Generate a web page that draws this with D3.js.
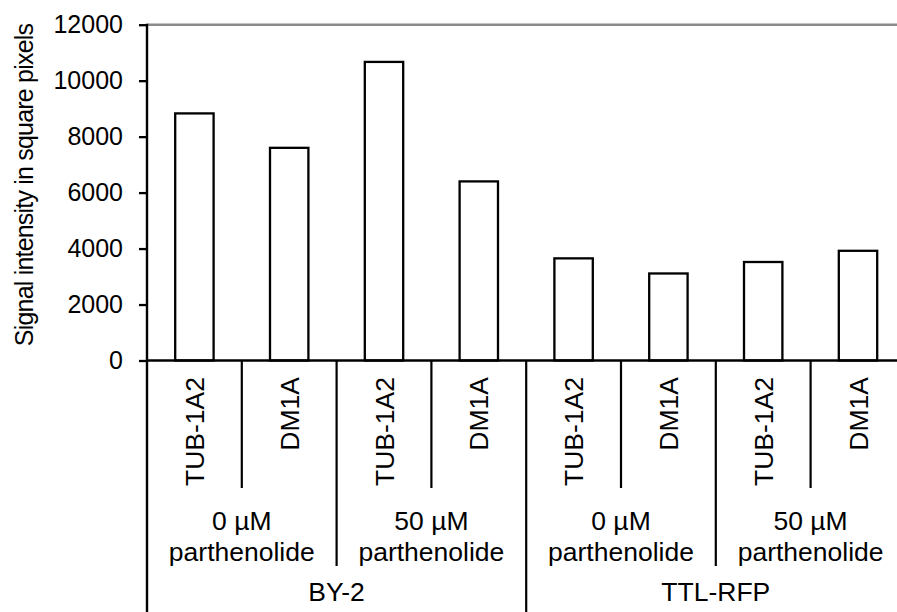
<!DOCTYPE html>
<html>
<head>
<meta charset="utf-8">
<script src="https://cdn.jsdelivr.net/npm/d3@7"></script>
<style>
  html, body { margin: 0; padding: 0; background: #fff; overflow: hidden; }
  svg { display: block; }
  text { font-family: "Liberation Sans", Arial, sans-serif; fill: #000; }
</style>
</head>
<body>
<svg id="chart" width="897" height="612"></svg>
<script>
// ---- data ----
const cellLines = ["BY-2", "TTL-RFP"];
const treatments = [["0 µM", "parthenolide"], ["50 µM", "parthenolide"]];
const antibodies = ["TUB-1A2", "DM1A"];
const values = [8830, 7600, 10670, 6400, 3650, 3110, 3520, 3920];
const yTicks = [0, 2000, 4000, 6000, 8000, 10000, 12000];
const yTitle = "Signal intensity in square pixels";

// build category table
const cats = [];
cellLines.forEach((c, ci) => treatments.forEach((t, ti) => antibodies.forEach((a, ai) => {
  cats.push({ id: ci + "-" + ti + "-" + ai, cell: c, treat: t, ab: a });
})));
cats.forEach((d, i) => d.value = values[i]);

const svg = d3.select("#chart");
const x0 = 147, x1 = 905.4, yTop = 24.7, yBase = 360.5;

const x = d3.scaleBand().domain(cats.map(d => d.id)).range([x0, x1]).padding(0);
const y = d3.scaleLinear().domain([0, 12000]).range([yBase, yTop]);
const bw = x.bandwidth();

// gridline at top (grey)
svg.append("line")
  .attr("x1", x0).attr("x2", x1)
  .attr("y1", y(12000)).attr("y2", y(12000))
  .attr("stroke", "#8a8a8a").attr("stroke-width", 2.4);

// bars
const barW = bw * 0.405;
svg.append("g").selectAll("rect").data(cats).join("rect")
  .attr("x", d => x(d.id) + (bw - barW) / 2)
  .attr("y", d => y(d.value))
  .attr("width", barW)
  .attr("height", d => y(0) - y(d.value))
  .attr("fill", "#fff").attr("stroke", "#000").attr("stroke-width", 2.3);

// y axis
const yAxis = d3.axisLeft(y).tickValues(yTicks).tickSize(8).tickPadding(16).tickFormat(d3.format("d"));
const gy = svg.append("g").attr("transform", `translate(${x0},0)`).call(yAxis);
gy.select(".domain").remove();
gy.selectAll(".tick line").attr("stroke", "#000").attr("stroke-width", 2.3);
gy.selectAll(".tick text").style("font-size", "25px").style("font-family", "'Liberation Sans', Arial, sans-serif").attr("fill", "#000");
svg.append("line").attr("x1", x0).attr("x2", x0).attr("y1", yTop - 1).attr("y2", 612)
  .attr("stroke", "#000").attr("stroke-width", 2.4);

// x axis base line
svg.append("line").attr("x1", x0).attr("x2", x1).attr("y1", yBase).attr("y2", yBase)
  .attr("stroke", "#000").attr("stroke-width", 2.4);

// separators
for (let b = 1; b <= cats.length; b++) {
  const xb = b < cats.length ? x(cats[b].id) : x1;
  const yEnd = b % 4 === 0 ? 612 : (b % 2 === 0 ? 566 : 488);
  svg.append("line").attr("x1", xb).attr("x2", xb).attr("y1", yBase).attr("y2", yEnd)
    .attr("stroke", "#000").attr("stroke-width", 2.2);
}

// antibody labels (rotated)
svg.append("g").selectAll("text").data(cats).join("text")
  .attr("transform", d => `translate(${x(d.id) + bw / 2},377) rotate(-90)`)
  .attr("text-anchor", "end").attr("dy", "0.36em")
  .style("font-size", "26.5px")
  .text(d => d.ab);

// treatment labels
const tGroups = [];
for (let i = 0; i < cats.length; i += 2) tGroups.push({ start: x(cats[i].id), end: x(cats[i].id) + 2 * bw, t: cats[i].treat });
const tg = svg.append("g").selectAll("text").data(tGroups).join("text")
  .attr("text-anchor", "middle")
  .style("font-size", "26.5px");
tg.append("tspan").attr("x", d => (d.start + d.end) / 2).attr("y", 530).text(d => d.t[0]);
tg.append("tspan").attr("x", d => (d.start + d.end) / 2).attr("y", 561).text(d => d.t[1]);

// cell line labels
const cGroups = [];
for (let i = 0; i < cats.length; i += 4) cGroups.push({ start: x(cats[i].id), end: x(cats[i].id) + 4 * bw, c: cats[i].cell });
svg.append("g").selectAll("text").data(cGroups).join("text")
  .attr("x", d => (d.start + d.end) / 2).attr("y", 601)
  .attr("text-anchor", "middle").style("font-size", "26.5px")
  .text(d => d.c);

// y title
svg.append("text")
  .attr("transform", `translate(33,185) rotate(-90)`)
  .attr("text-anchor", "middle")
  .style("font-size", "25px")
  .style("letter-spacing", "-0.8px")
  .text(yTitle);
</script>
</body>
</html>
